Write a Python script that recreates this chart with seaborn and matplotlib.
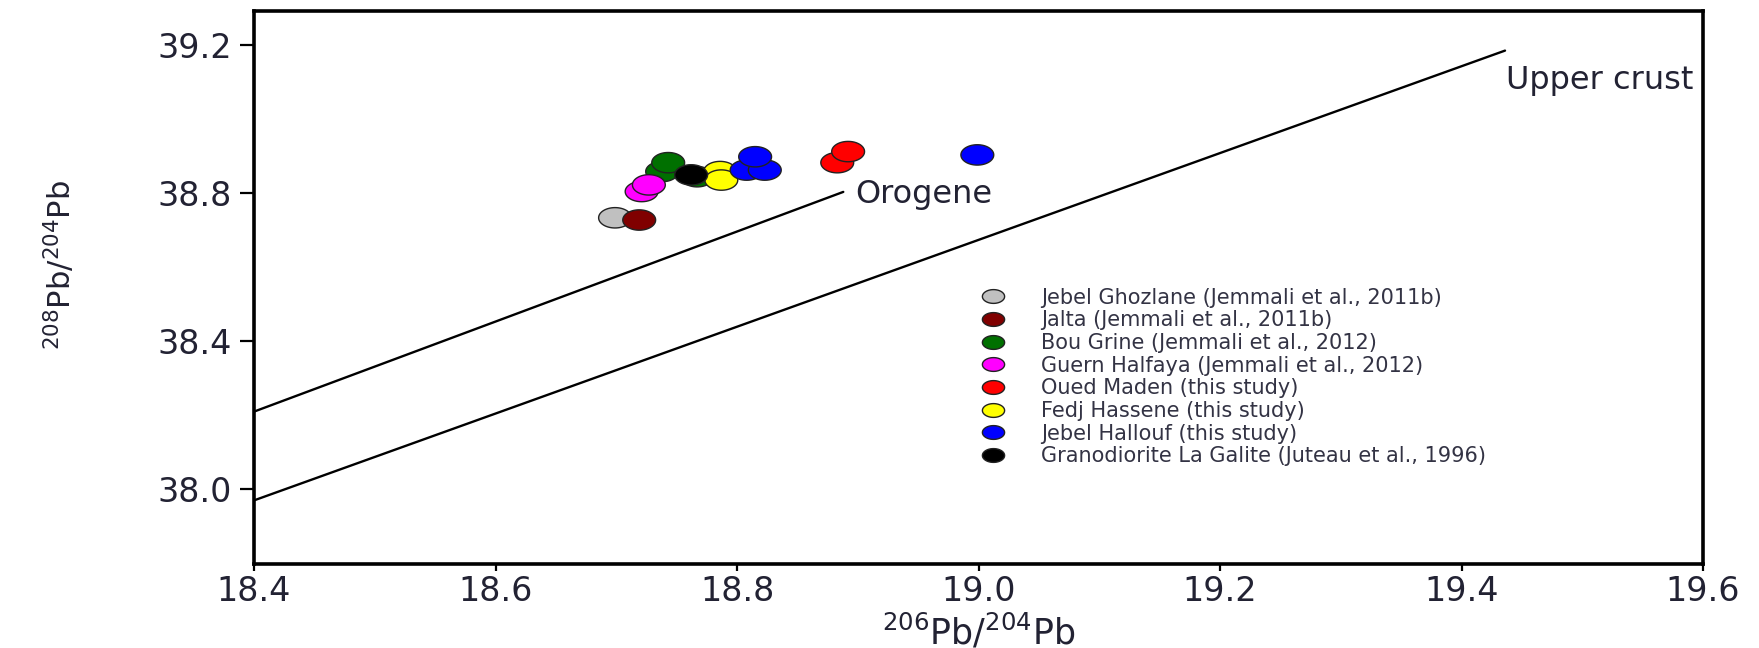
import matplotlib
matplotlib.use('Agg')
import matplotlib.pyplot as plt
from matplotlib.path import Path
from matplotlib.lines import Line2D
import numpy as np
import pandas as pd
import seaborn as sns

# sample groups (legend order)
groups = ['Jebel Ghozlane (Jemmali et al., 2011b)',
          'Jalta (Jemmali et al., 2011b)',
          'Bou Grine (Jemmali et al., 2012)',
          'Guern Halfaya (Jemmali et al., 2012)',
          'Oued Maden (this study)',
          'Fedj Hassene (this study)',
          'Jebel Hallouf (this study)',
          'Granodiorite La Galite (Juteau et al., 1996)']
colors = ['#c0c0c0', '#800000', '#007000', '#ff00ff',
          '#ff0000', '#ffff00', '#0000ff', '#000000']

# 206Pb/204Pb and 208Pb/204Pb values per group
pb206 = [[18.699], [18.719], [18.738, 18.743, 18.767], [18.721, 18.727],
         [18.883, 18.892], [18.786, 18.787], [18.808, 18.823, 18.815, 18.999],
         [18.762]]
pb208 = [[38.733], [38.727], [38.858, 38.882, 38.844], [38.804, 38.822],
         [38.882, 38.912], [38.858, 38.835], [38.862, 38.862, 38.898, 38.903],
         [38.849]]

# reference growth curves (start / end points)
orogene_x = [18.4, 18.888]
orogene_y = [38.209, 38.803]
crust_x = [18.4, 19.436]
crust_y = [37.969, 39.185]

rows = []
for g, xs, ys in zip(groups, pb206, pb208):
    for a, b in zip(xs, ys):
        rows.append((g, a, b))
df = pd.DataFrame(rows, columns=['group', 'pb206', 'pb208'])

sns.set_style('white')
plt.rcParams['font.family'] = ['DejaVu Sans']
plt.rcParams['mathtext.default'] = 'regular'

# flattened ellipse marker (the original figure is stretched sideways)
t = np.linspace(0, 2 * np.pi, 60)
ell = Path(np.column_stack([np.cos(t) * 1.0, np.sin(t) * 0.62]), closed=True)

fig = plt.figure(figsize=(17.59, 6.48), dpi=100)
ax = fig.add_axes([0.1444, 0.1296, 0.8238, 0.8534])

ax.plot(orogene_x, orogene_y, color='black', lw=1.7)
ax.plot(crust_x, crust_y, color='black', lw=1.7)

sns.scatterplot(data=df, x='pb206', y='pb208', hue='group', hue_order=groups,
                palette=dict(zip(groups, colors)), marker=ell, s=560,
                edgecolor='#222222', linewidth=1.0, legend=False, ax=ax, zorder=3)

txt = '#222233'
ax.text(18.898, 38.795, 'Orogene', fontsize=23, color=txt, va='center', ha='left')
ax.text(19.592, 39.103, 'Upper crust', fontsize=23, color=txt, va='center', ha='right')

handles = [Line2D([], [], ls='none', marker=ell, markersize=16,
                  markerfacecolor=c, markeredgecolor='#222222', markeredgewidth=1.0)
           for c in colors]
ax.legend(handles, groups, loc='upper left', bbox_to_anchor=(0.4955, 0.500),
          frameon=False, fontsize=15, labelcolor='#333344', handletextpad=1.3,
          labelspacing=0.13, borderpad=0, borderaxespad=0)

ax.set_xlim(18.4, 19.6)
ax.set_ylim(37.797, 39.292)
ax.set_xticks([18.4, 18.6, 18.8, 19.0, 19.2, 19.4, 19.6])
ax.set_yticks([38.0, 38.4, 38.8, 39.2])
ax.xaxis.set_major_formatter(matplotlib.ticker.FormatStrFormatter('%.1f'))
ax.yaxis.set_major_formatter(matplotlib.ticker.FormatStrFormatter('%.1f'))
ax.tick_params(axis='both', direction='out', width=1.6,
               labelsize=24, colors='black', labelcolor=txt)
ax.tick_params(axis='x', length=5, pad=3)
ax.tick_params(axis='y', length=10, pad=6)
ax.tick_params(left=True, bottom=True)
for s in ax.spines.values():
    s.set_linewidth(2.6)
    s.set_color('black')

ax.set_xlabel(r'$^{206}$Pb/$^{204}$Pb', fontsize=25, color=txt)
ax.set_ylabel(r'$^{208}$Pb/$^{204}$Pb', fontsize=22, color=txt)
ax.xaxis.label.set_va('baseline')
ax.xaxis.set_label_coords(0.5, -0.145)
ax.yaxis.set_label_coords(-0.122, 0.54)

fig.savefig('out.png', dpi=100)
